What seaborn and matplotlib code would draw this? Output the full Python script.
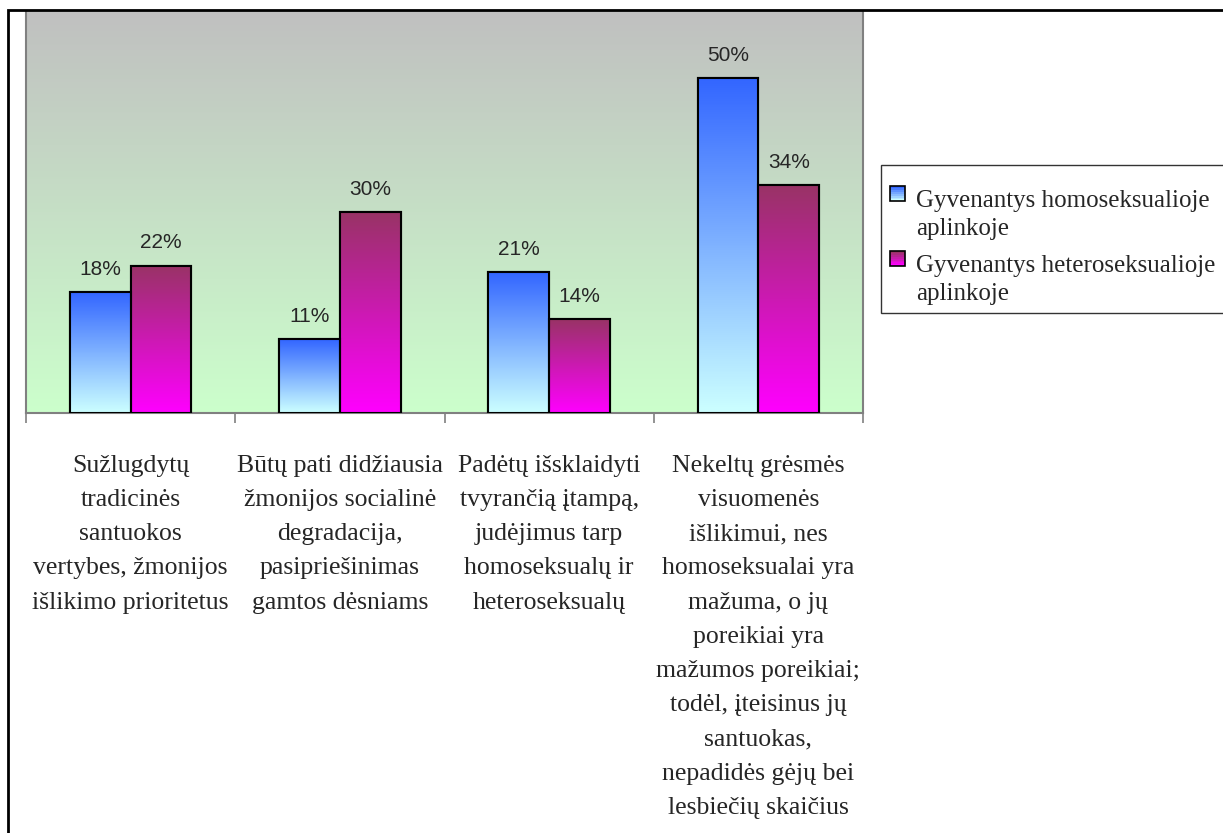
import numpy as np
import pandas as pd
import seaborn as sns
import matplotlib.pyplot as plt
from matplotlib.patches import Rectangle
from matplotlib.colors import LinearSegmentedColormap, to_rgb
from matplotlib.legend_handler import HandlerBase

categories = [
    'Sužlugdytų\ntradicinės\nsantuokos\nvertybes, žmonijos\nišlikimo prioritetus',
    'Būtų pati didžiausia\nžmonijos socialinė\ndegradacija,\npasipriešinimas\ngamtos dėsniams',
    'Padėtų išsklaidyti\ntvyrančią įtampą,\njudėjimus tarp\nhomoseksualų ir\nheteroseksualų',
    'Nekeltų grėsmės\nvisuomenės\nišlikimui, nes\nhomoseksualai yra\nmažuma, o jų\nporeikiai yra\nmažumos poreikiai;\ntodėl, įteisinus jų\nsantuokas,\nnepadidės gėjų bei\nlesbiečių skaičius',
]
series = ['Gyvenantys homoseksualioje\naplinkoje', 'Gyvenantys heteroseksualioje\naplinkoje']
homo = [18, 11, 21, 50]
hetero = [22, 30, 14, 34]

# gradient (top, bottom) per series
grads = [('#3366ff', '#ccffff'), ('#993366', '#ff00ff')]

df = pd.DataFrame({
    'cat': categories * 2,
    'grupe': [series[0]] * 4 + [series[1]] * 4,
    'val': homo + hetero,
})

sns.set_style('white')
plt.rcParams['font.family'] = ['Liberation Serif', 'DejaVu Serif']

fig = plt.figure(figsize=(12.23, 8.33), dpi=100)
ax = fig.add_axes([26 / 1223, 1 - 413 / 833, (863 - 26) / 1223, (413 - 11) / 833])

sns.barplot(data=df, x='cat', y='val', hue='grupe', palette=['#6699ff', '#cc33aa'],
            width=0.58, gap=0, edgecolor='black', linewidth=1.5, ax=ax, legend=False, zorder=3)
ax.set_xlim(-0.5, 3.5)
ax.set_ylim(0, 60)

# background gradient
bg = LinearSegmentedColormap.from_list('bg', ['#ccffcc', '#c0c0c0'])
ax.imshow(np.linspace(0, 1, 256).reshape(-1, 1)[::-1], cmap=bg, aspect='auto',
          extent=[0, 1, 0, 1], transform=ax.transAxes, zorder=0)

# gradient fill in bars
for i, cont in enumerate(ax.containers):
    cm = LinearSegmentedColormap.from_list('g%d' % i, [grads[i][1], grads[i][0]])
    for p, v in zip(cont.patches, cont.datavalues):
        x0, w, h = p.get_x(), p.get_width(), p.get_height()
        im = ax.imshow(np.linspace(0, 1, 128).reshape(-1, 1)[::-1], cmap=cm, aspect='auto',
                       extent=[x0, x0 + w, 0, h], zorder=3.5)
        im.set_clip_path(p)
        ax.add_patch(Rectangle((x0, 0), w, h, fill=False, edgecolor='black', linewidth=1.5, zorder=4))
        ax.text(x0 + w / 2, h + 2.0, '%d%%' % v, ha='center', va='bottom',
                fontsize=15, family=['Liberation Sans', 'DejaVu Sans'], zorder=5)

ax.set_xlim(-0.5, 3.5)
ax.set_ylim(0, 60)
ax.set_xlabel('')
ax.set_ylabel('')
ax.set_yticks([])
ax.set_xticks(range(4))
ax.set_xticklabels(categories, fontsize=18.5, linespacing=1.72, va='top')
ax.set_xticks([-0.5, 0.5, 1.5, 2.5, 3.5], minor=True)
ax.tick_params(axis='x', which='major', length=0, pad=30)
ax.tick_params(axis='x', which='minor', length=7, width=1.2, color='#808080', direction='out', bottom=True)
for s in ['left', 'right', 'bottom']:
    ax.spines[s].set_color('#808080')
    ax.spines[s].set_linewidth(1.5)
ax.spines['top'].set_visible(False)


class GradHandler(HandlerBase):
    def __init__(self, top, bottom):
        super().__init__()
        self.top, self.bottom = top, bottom

    def create_artists(self, legend, orig, xd, yd, width, height, fontsize, trans):
        s = width
        x0 = -xd
        y0 = -yd + (height - s) / 2 + 15
        arts = []
        n = 8
        c1, c2 = np.array(to_rgb(self.top)), np.array(to_rgb(self.bottom))
        for k in range(n):
            t = k / (n - 1)
            col = c2 * (1 - t) + c1 * t
            arts.append(Rectangle((x0, y0 + s * k / n), s, s / n, facecolor=col,
                                  edgecolor='none', transform=trans))
        arts.append(Rectangle((x0, y0), s, s, fill=False, edgecolor='black', linewidth=1.2, transform=trans))
        return arts


h1 = Rectangle((0, 0), 1, 1)
h2 = Rectangle((0, 0), 1, 1)
leg = fig.legend([h1, h2], series, loc='upper left', bbox_to_anchor=(881 / 1223, 1 - 165 / 833),
                 bbox_transform=fig.transFigure, borderaxespad=0, fontsize=18, frameon=True,
                 fancybox=False, edgecolor='black', handlelength=0.62, handletextpad=0.43,
                 labelspacing=0.6, borderpad=0.35, title=' ', title_fontsize=0.5,
                 handler_map={h1: GradHandler(*grads[0]), h2: GradHandler(*grads[1])})
leg.get_frame().set_linewidth(1.0)
for t in leg.get_texts():
    t.set_linespacing(1.35)

# outer chart frame
fig.add_artist(Rectangle((8 / 1223, -0.05), 1.1, 1 - 10 / 833 + 0.05, fill=False,
                         edgecolor='black', linewidth=2, transform=fig.transFigure))

fig.savefig('out.png', dpi=100)
